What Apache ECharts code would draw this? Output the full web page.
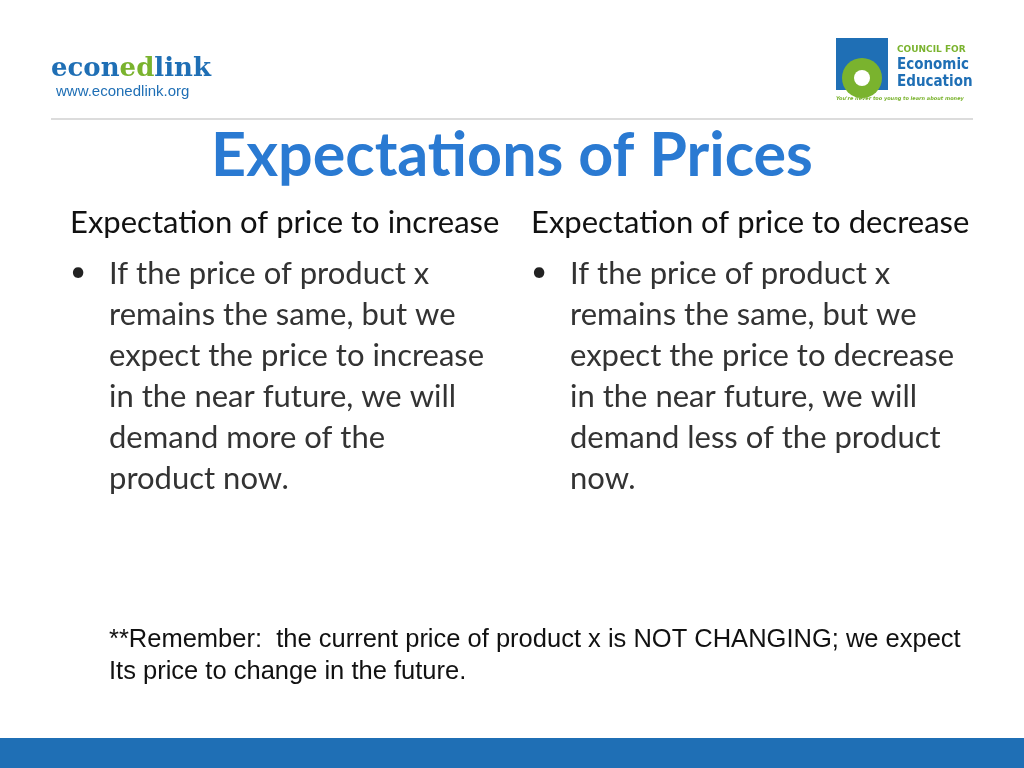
<!DOCTYPE html>
<html><head><meta charset="utf-8">
<script src="https://cdn.jsdelivr.net/npm/echarts@6/dist/echarts.min.js"></script>
<style>html,body{margin:0;padding:0;background:#fff}#c{width:1024px;height:768px}</style>
</head><body><div id="c"></div>
<script>
const title = 'Expectations of Prices';
const headings = ['Expectation of price to increase', 'Expectation of price to decrease'];
const leftLines = ['If the price of product x', 'remains the same, but we', 'expect the price to increase', 'in the near future, we will', 'demand more of the', 'product now.'];
const rightLines = ['If the price of product x', 'remains the same, but we', 'expect the price to decrease', 'in the near future, we will', 'demand less of the product', 'now.'];
const noteLines = ['**Remember:  the current price of product x is NOT CHANGING; we expect', 'Its price to change in the future.'];

const body = 'Lato, "Open Sans", sans-serif';
const g = [];
const txt = (x, y, t, font, extra) => g.push(Object.assign({type: 'text', x, y, style: Object.assign({text: t, font, fill: '#222'}, extra || {})}));

// logo left
g.push({type: 'text', x: 51, y: 56, style: {
  text: '{a|econ}{b|ed}{a|link}',
  rich: {
    a: {font: 'bold 26px "DejaVu Serif", serif', fill: '#1f6fb5'},
    b: {font: 'bold 26px "DejaVu Serif", serif', fill: '#7ab32e'}
  }
}});
txt(56, 84, 'www.econedlink.org', '15px "Liberation Sans", sans-serif', {fill: '#1f6fb5'});
// logo right
g.push({type: 'rect', shape: {x: 836, y: 38, width: 52, height: 52}, style: {fill: '#1f6fb5'}});
g.push({type: 'circle', shape: {cx: 862, cy: 78, r: 20}, style: {fill: '#7ab32e'}});
g.push({type: 'circle', shape: {cx: 862, cy: 78, r: 8}, style: {fill: '#fff'}});
txt(897, 45, 'COUNCIL FOR', 'bold 9px "DejaVu Sans", sans-serif', {fill: '#7ab32e'});
txt(897, 58, 'Economic', 'bold 15px "DejaVu Sans Condensed", sans-serif', {fill: '#1f6fb5'});
txt(897, 75, 'Education', 'bold 15px "DejaVu Sans Condensed", sans-serif', {fill: '#1f6fb5'});
txt(836, 96, "You're never too young to learn about money", 'italic bold 5px "DejaVu Sans", sans-serif', {fill: '#7ab32e'});
// rule
g.push({type: 'line', shape: {x1: 51, y1: 119, x2: 973, y2: 119}, style: {stroke: '#d0d0d0', lineWidth: 1.5}});
// title
txt(512, 126, title, 'bold 61px ' + body, {fill: '#2a7ad2', textAlign: 'center'});
// headings
txt(70, 207, headings[0], '31px ' + body, {fill: '#111'});
txt(531, 207, headings[1], '31px ' + body, {fill: '#111'});
// bullets
txt(70, 258, '•', '28px ' + body);
txt(531, 258, '•', '28px ' + body);
leftLines.forEach((l, i) => txt(109, 258 + i * 41, l, '31px ' + body, {fill: '#333'}));
rightLines.forEach((l, i) => txt(570, 258 + i * 41, l, '31px ' + body, {fill: '#333'}));
// note
noteLines.forEach((l, i) => txt(109, 627 + i * 32, l, '25.5px "Liberation Sans Narrow", "Liberation Sans", sans-serif', {fill: '#111'}));
// bottom bar
g.push({type: 'rect', shape: {x: 0, y: 738, width: 1024, height: 30}, style: {fill: '#1f6fb5'}});

const chart = echarts.init(document.getElementById('c'));
chart.setOption({backgroundColor: '#fff', graphic: g});
</script></body></html>
